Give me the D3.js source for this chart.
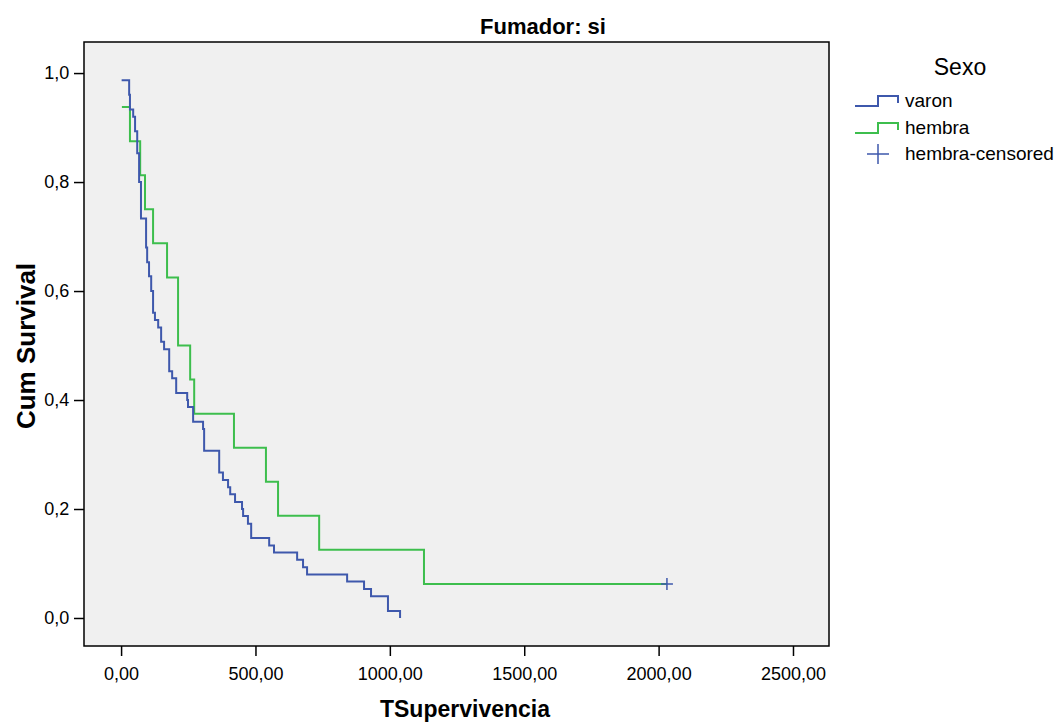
<!DOCTYPE html>
<html lang="en">
  <head>
    <meta charset="utf-8">
    <title>Fumador: si</title>
    <script src="https://d3js.org/d3.v7.min.js"></script>
    <style>
      body { margin: 0; background: #fff; }
      text { font-family: "Liberation Sans", Arial, sans-serif; }
    </style>
  </head>
  <body>
    <svg width="1058" height="722"></svg>
    <script type="text/javascript">
      // survival steps (time, cum survival after the event)
      var varonTime = [2, 30, 33, 45, 52, 60, 67, 74, 93, 97, 104, 112, 119, 126, 138, 149, 160,
                       179, 190, 205, 246, 249, 268, 305, 309, 365, 379, 398, 406, 424, 450, 454,
                       472, 484, 551, 569, 655, 677, 692, 841, 904, 930, 993, 1038];
      var varonSurv = [0.987, 0.96, 0.933, 0.92, 0.893, 0.853, 0.8, 0.733, 0.68, 0.653, 0.627, 0.6,
                       0.56, 0.547, 0.533, 0.507, 0.493, 0.453, 0.44, 0.413, 0.4, 0.387, 0.36,
                       0.347, 0.307, 0.267, 0.253, 0.24, 0.227, 0.213, 0.2, 0.187, 0.173, 0.147,
                       0.133, 0.12, 0.107, 0.093, 0.08, 0.067, 0.053, 0.04, 0.013, 0];

      var hembraTime = [3, 33, 71, 89, 119, 171, 212, 257, 272, 420, 539, 584, 737, 1127, 2031];
      var hembraSurv = [0.9375, 0.875, 0.8125, 0.75, 0.6875, 0.625, 0.5, 0.4375, 0.375, 0.3125,
                        0.25, 0.1875, 0.125, 0.0625, 0.0625];

      var censoredTime = [2031];
      var censoredSurv = [0.0625];

      var xTicks = [0, 500, 1000, 1500, 2000, 2500];
      var yTicks = [0, 0.2, 0.4, 0.6, 0.8, 1.0];

      var seriesNames = ["varon", "hembra", "hembra-censored"];
      var seriesColors = ["#3e58ac", "#3dbe4d", "#3e58ac"];

      var svg = d3.select("svg");

      // plot box (window.top is reserved, so use other names)
      var pLeft = 84, pRight = 829, pTop = 42, pBottom = 646;

      var x = d3.scaleLinear().domain([-138, 2634]).range([pLeft, pRight]);
      var y = d3.scaleLinear().domain([-0.0514, 1.057]).range([pBottom, pTop]);

      var fmtX = function(d) { return d3.format(".2f")(d).replace(".", ","); };
      var fmtY = function(d) { return d3.format(".1f")(d).replace(".", ","); };

      // plot background
      svg.append("rect")
          .attr("x", pLeft)
          .attr("y", pTop)
          .attr("width", pRight - pLeft)
          .attr("height", pBottom - pTop)
          .attr("fill", "#f0f0f0");

      // axes
      var xAxis = svg.append("g")
          .attr("transform", "translate(0," + pBottom + ")")
          .call(d3.axisBottom(x).tickValues(xTicks).tickFormat(fmtX).tickSize(10).tickSizeOuter(0));
      var yAxis = svg.append("g")
          .attr("transform", "translate(" + pLeft + ",0)")
          .call(d3.axisLeft(y).tickValues(yTicks).tickFormat(fmtY).tickSize(10).tickSizeOuter(0));

      [xAxis, yAxis].forEach(function(a) {
        a.select(".domain").remove();
        a.selectAll("line").attr("stroke", "#000").attr("stroke-width", 1.5);
        a.selectAll("text").attr("font-size", 18).attr("fill", "#000")
            .attr("font-family", "'Liberation Sans', Arial, sans-serif");
      });
      xAxis.selectAll("text").attr("dy", "1.15em");
      yAxis.selectAll("text").attr("dx", "-0.1em");

      // step lines
      var line = d3.line()
          .x(function(d) { return x(d[0]); })
          .y(function(d) { return y(d[1]); })
          .curve(d3.curveStepAfter);

      var varonData = d3.zip(varonTime, varonSurv);
      var hembraData = d3.zip(hembraTime, hembraSurv);

      svg.append("path")
          .datum(hembraData)
          .attr("d", line)
          .attr("fill", "none")
          .attr("stroke", seriesColors[1])
          .attr("stroke-width", 2);

      svg.append("path")
          .datum(varonData)
          .attr("d", line)
          .attr("fill", "none")
          .attr("stroke", seriesColors[0])
          .attr("stroke-width", 2);

      // censored marks
      var cens = d3.zip(censoredTime, censoredSurv);
      svg.selectAll(".cens")
          .data(cens)
          .enter().append("path")
          .attr("class", "cens")
          .attr("d", function(d) {
            var cx = x(d[0]), cy = y(d[1]);
            return "M" + (cx - 6) + "," + cy + "H" + (cx + 6) + "M" + cx + "," + (cy - 6) + "V" + (cy + 6);
          })
          .attr("stroke", seriesColors[2])
          .attr("stroke-width", 1.5)
          .attr("fill", "none");

      // frame
      svg.append("rect")
          .attr("x", pLeft)
          .attr("y", pTop)
          .attr("width", pRight - pLeft)
          .attr("height", pBottom - pTop)
          .attr("fill", "none")
          .attr("stroke", "#000")
          .attr("stroke-width", 1.5);

      // titles
      svg.append("text")
          .attr("x", 543)
          .attr("y", 34)
          .attr("text-anchor", "middle")
          .attr("font-size", 22)
          .attr("font-weight", "bold")
          .text("Fumador: si");

      svg.append("text")
          .attr("x", 465)
          .attr("y", 717)
          .attr("text-anchor", "middle")
          .attr("font-size", 23)
          .attr("font-weight", "bold")
          .text("TSupervivencia");

      svg.append("text")
          .attr("transform", "translate(35,346) rotate(-90)")
          .attr("text-anchor", "middle")
          .attr("font-size", 26)
          .attr("font-weight", "bold")
          .text("Cum Survival");

      // legend
      var lg = svg.append("g");
      lg.append("text")
          .attr("x", 960)
          .attr("y", 75)
          .attr("text-anchor", "middle")
          .attr("font-size", 23)
          .text("Sexo");

      var legY = [101, 128, 154];
      seriesNames.forEach(function(name, i) {
        var cy = legY[i];
        if (i < 2) {
          lg.append("path")
              .attr("d", "M855," + (cy + 5) + "H878V" + (cy - 5) + "H898V" + (cy + 2))
              .attr("fill", "none")
              .attr("stroke", seriesColors[i])
              .attr("stroke-width", 2);
        } else {
          lg.append("path")
              .attr("d", "M867," + cy + "H889M878," + (cy - 10) + "V" + (cy + 10))
              .attr("fill", "none")
              .attr("stroke", seriesColors[i])
              .attr("stroke-width", 1.5);
        }
        lg.append("text")
            .attr("x", 905)
            .attr("y", cy + 6)
            .attr("font-size", 19)
            .text(name);
      });
    </script>
  </body>
</html>
